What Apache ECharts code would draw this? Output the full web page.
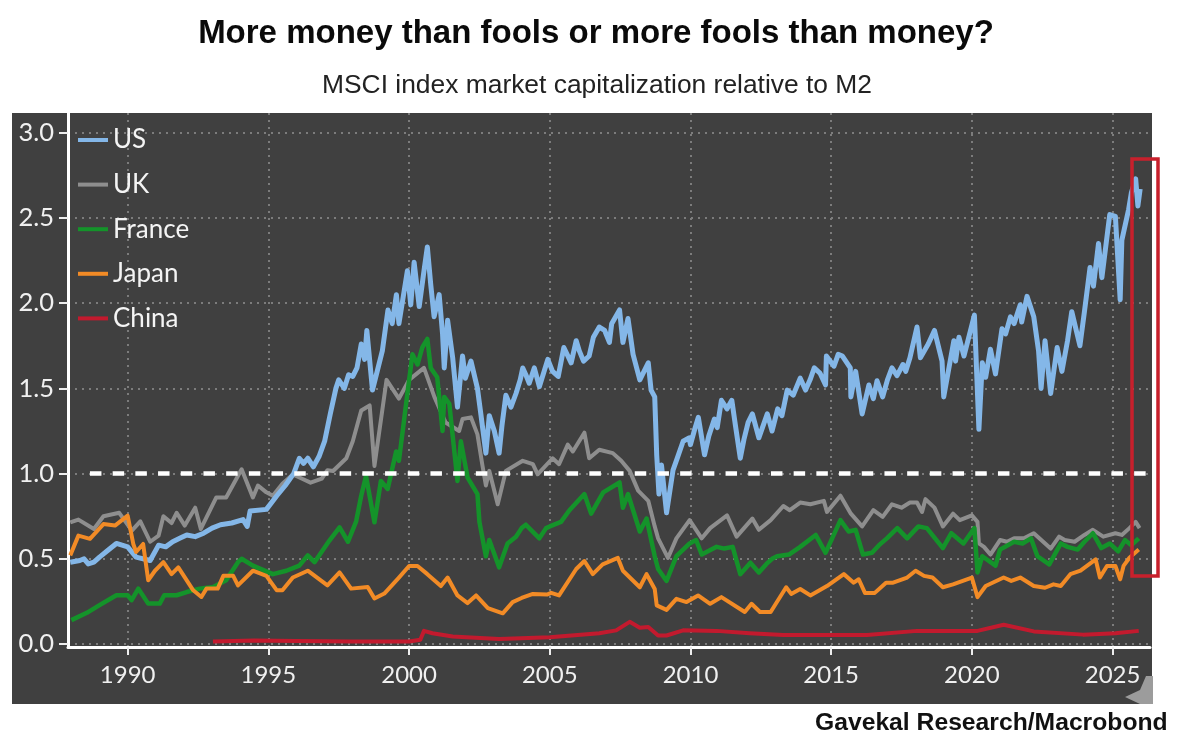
<!DOCTYPE html>
<html>
<head>
<meta charset="utf-8">
<title>MSCI market cap relative to M2</title>
<script src="https://cdn.jsdelivr.net/npm/echarts@6/dist/echarts.min.js"></script>
<style>
  html, body { margin: 0; padding: 0; background: #fff; }
  #main { width: 1200px; height: 750px; }
</style>
</head>
<body>
<div id="main"></div>
<script>
// [year, value]
var usData = [[1987.96,.48],[1988.3,.49],[1988.45,.5],[1988.6,.47],[1988.8,.48],[1989,.51],[1989.3,.55],[1989.6,.59],[1990,.57],[1990.3,.51],[1990.8,.49],[1991.1,.58],[1991.35,.57],[1991.6,.6],[1991.85,.62],[1992.1,.64],[1992.4,.63],[1992.7,.65],[1993,.68],[1993.3,.7],[1993.7,.71],[1994.1,.73],[1994.25,.69],[1994.35,.78],[1994.93,.79],[1995.3,.87],[1995.6,.93],[1995.9,1.0],[1996.1,1.09],[1996.25,1.06],[1996.4,1.09],[1996.6,1.04],[1996.8,1.1],[1997,1.19],[1997.2,1.35],[1997.4,1.5],[1997.5,1.55],[1997.7,1.5],[1997.85,1.58],[1998,1.57],[1998.15,1.62],[1998.3,1.76],[1998.42,1.67],[1998.5,1.84],[1998.7,1.49],[1999.05,1.72],[1999.25,1.96],[1999.4,1.88],[1999.55,2.05],[1999.64,1.88],[1999.94,2.19],[2000.06,1.99],[2000.18,2.24],[2000.36,1.98],[2000.53,2.19],[2000.65,2.33],[2000.77,2.11],[2000.89,1.92],[2001.07,2.05],[2001.19,1.82],[2001.25,1.62],[2001.37,1.9],[2001.55,1.68],[2001.72,1.39],[2001.9,1.69],[2002,1.56],[2002.2,1.66],[2002.43,1.5],[2002.55,1.35],[2002.73,1.12],[2002.85,1.34],[2003.03,1.25],[2003.2,1.12],[2003.3,1.28],[2003.44,1.46],[2003.62,1.39],[2003.8,1.47],[2003.95,1.55],[2004.04,1.62],[2004.15,1.58],[2004.27,1.53],[2004.45,1.62],[2004.63,1.51],[2004.93,1.67],[2005.1,1.6],[2005.3,1.57],[2005.5,1.74],[2005.76,1.65],[2005.94,1.78],[2006.05,1.72],[2006.2,1.66],[2006.4,1.69],[2006.55,1.8],[2006.76,1.86],[2006.95,1.84],[2007.12,1.77],[2007.2,1.88],[2007.48,1.96],[2007.6,1.77],[2007.78,1.91],[2007.96,1.7],[2008.2,1.55],[2008.5,1.65],[2008.6,1.49],[2008.73,1.45],[2008.8,1.11],[2008.88,.88],[2008.97,1.05],[2009.15,.77],[2009.38,1.02],[2009.55,1.1],[2009.74,1.19],[2009.95,1.21],[2010,1.17],[2010.15,1.26],[2010.28,1.33],[2010.5,1.11],[2010.65,1.22],[2010.85,1.32],[2010.95,1.27],[2011.1,1.43],[2011.3,1.38],[2011.47,1.43],[2011.6,1.28],[2011.77,1.09],[2011.9,1.2],[2012.05,1.3],[2012.2,1.35],[2012.43,1.21],[2012.73,1.35],[2012.9,1.25],[2013.1,1.38],[2013.25,1.34],[2013.44,1.49],[2013.65,1.46],[2013.9,1.56],[2014.09,1.49],[2014.25,1.55],[2014.4,1.62],[2014.6,1.59],[2014.8,1.52],[2014.83,1.69],[2015.1,1.63],[2015.25,1.7],[2015.4,1.69],[2015.68,1.62],[2015.7,1.45],[2015.87,1.6],[2016.1,1.35],[2016.34,1.52],[2016.5,1.44],[2016.63,1.545],[2016.83,1.45],[2017,1.55],[2017.16,1.62],[2017.34,1.575],[2017.55,1.64],[2017.65,1.6],[2017.8,1.68],[2018.05,1.86],[2018.17,1.68],[2018.45,1.76],[2018.67,1.84],[2018.94,1.66],[2019,1.45],[2019.36,1.78],[2019.42,1.66],[2019.54,1.8],[2019.72,1.69],[2020.09,1.93],[2020.25,1.26],[2020.37,1.65],[2020.49,1.565],[2020.66,1.73],[2020.84,1.585],[2021.07,1.85],[2021.2,1.82],[2021.37,1.92],[2021.5,1.88],[2021.72,1.99],[2021.77,1.89],[2021.96,2.04],[2022.2,1.92],[2022.37,1.72],[2022.46,1.5],[2022.6,1.78],[2022.8,1.47],[2023.03,1.74],[2023.2,1.6],[2023.4,1.78],[2023.55,1.95],[2023.84,1.75],[2024,1.95],[2024.1,2.08],[2024.2,2.21],[2024.32,2.1],[2024.5,2.35],[2024.62,2.15],[2024.9,2.52],[2025.1,2.51],[2025.27,2.02],[2025.33,2.37],[2025.57,2.55],[2025.67,2.65],[2025.82,2.73],[2025.9,2.57],[2025.98,2.67]];
var ukData = [[1987.96,.714],[1988.25,.73],[1988.8,.675],[1989.14,.75],[1989.7,.77],[1990.15,.665],[1990.45,.72],[1990.8,.6],[1991.1,.636],[1991.27,.75],[1991.56,.71],[1991.74,.77],[1992.03,.695],[1992.4,.8],[1992.6,.675],[1993.15,.86],[1993.5,.86],[1994.05,1.025],[1994.45,.86],[1994.63,.93],[1994.93,.89],[1995.16,.87],[1995.5,.94],[1995.87,.995],[1996.2,.97],[1996.5,.947],[1996.9,.97],[1997.1,1.02],[1997.3,1.015],[1997.77,1.09],[1998,1.19],[1998.3,1.37],[1998.6,1.4],[1998.77,1.045],[1999.2,1.55],[1999.64,1.44],[2000,1.55],[2000.53,1.62],[2000.9,1.45],[2001.3,1.3],[2001.78,1.25],[2001.9,1.32],[2002.2,1.33],[2002.43,1.23],[2002.6,1.055],[2002.73,.93],[2002.85,1.016],[2003.15,.82],[2003.44,1.016],[2004.04,1.075],[2004.4,1.055],[2004.57,.996],[2005.1,1.09],[2005.33,1.055],[2005.64,1.17],[2005.82,1.13],[2006.23,1.24],[2006.4,1.09],[2006.76,1.14],[2007.24,1.12],[2007.54,1.075],[2007.84,1.016],[2008.14,.9],[2008.5,.84],[2008.73,.69],[2008.85,.62],[2009.2,.505],[2009.5,.62],[2009.97,.727],[2010.4,.62],[2010.7,.68],[2011.3,.755],[2011.64,.63],[2012.2,.736],[2012.43,.67],[2012.85,.727],[2013.3,.81],[2013.53,.785],[2013.9,.83],[2014.26,.82],[2014.74,.84],[2014.85,.775],[2015.33,.87],[2015.7,.765],[2016.1,.69],[2016.5,.785],[2016.83,.746],[2017.16,.82],[2017.5,.8],[2017.8,.83],[2018.05,.83],[2018.23,.775],[2018.35,.85],[2018.67,.8],[2018.97,.69],[2019.33,.765],[2019.57,.727],[2020,.755],[2020.2,.717],[2020.25,.59],[2020.43,.57],[2020.66,.525],[2021,.61],[2021.25,.6],[2021.5,.62],[2021.85,.62],[2022.2,.65],[2022.8,.56],[2023.1,.63],[2023.3,.61],[2023.65,.6],[2024,.64],[2024.3,.67],[2024.67,.63],[2025.1,.65],[2025.33,.64],[2025.6,.68],[2025.82,.717],[2025.96,.68]];
var franceData = [[1988,.14],[1988.55,.183],[1989,.228],[1989.6,.286],[1990,.286],[1990.14,.257],[1990.38,.325],[1990.73,.237],[1991.14,.237],[1991.3,.286],[1991.74,.286],[1992.1,.305],[1992.56,.325],[1993.04,.335],[1993.5,.374],[1993.92,.48],[1994.05,.5],[1994.45,.46],[1995.16,.41],[1995.64,.43],[1996.1,.46],[1996.4,.52],[1996.64,.48],[1997.17,.607],[1997.53,.685],[1997.83,.6],[1998.12,.72],[1998.3,.87],[1998.47,.986],[1998.77,.714],[1999,.957],[1999.24,.91],[1999.54,1.13],[1999.64,1.075],[1999.82,1.31],[1999.94,1.47],[2000.12,1.7],[2000.3,1.64],[2000.47,1.74],[2000.65,1.79],[2000.77,1.62],[2001,1.565],[2001.19,1.25],[2001.25,1.45],[2001.43,1.41],[2001.72,.957],[2001.84,1.19],[2002.08,.976],[2002.43,.88],[2002.5,.717],[2002.73,.515],[2002.85,.61],[2003.2,.45],[2003.5,.59],[2003.8,.63],[2004,.68],[2004.15,.7],[2004.63,.62],[2004.87,.68],[2005,.69],[2005.4,.717],[2005.7,.785],[2006.23,.88],[2006.47,.765],[2006.9,.89],[2007.48,.948],[2007.6,.8],[2007.78,.88],[2008.2,.66],[2008.44,.736],[2008.73,.515],[2008.85,.44],[2009.15,.37],[2009.5,.515],[2009.97,.59],[2010.2,.61],[2010.4,.525],[2010.93,.57],[2011.2,.56],[2011.5,.57],[2011.77,.41],[2012.13,.477],[2012.43,.42],[2012.7,.47],[2012.9,.5],[2013.08,.515],[2013.5,.525],[2013.9,.57],[2014.45,.64],[2014.8,.535],[2015.33,.727],[2015.62,.66],[2015.87,.67],[2016.13,.525],[2016.45,.535],[2016.7,.58],[2016.98,.62],[2017.35,.68],[2017.7,.62],[2018.1,.69],[2018.4,.68],[2018.97,.563],[2019.27,.65],[2019.7,.59],[2020.09,.68],[2020.2,.42],[2020.37,.515],[2020.84,.46],[2021,.554],[2021.5,.6],[2021.8,.59],[2022.1,.62],[2022.33,.515],[2022.75,.467],[2023.16,.59],[2023.4,.57],[2023.76,.554],[2024,.6],[2024.3,.65],[2024.6,.563],[2024.9,.59],[2025.2,.544],[2025.44,.61],[2025.67,.58],[2025.93,.62]];
var japanData = [[1987.96,.52],[1988.25,.636],[1988.66,.617],[1989.14,.704],[1989.55,.695],[1990,.753],[1990.2,.587],[1990.3,.54],[1990.55,.587],[1990.73,.374],[1990.97,.43],[1991.27,.48],[1991.56,.41],[1991.8,.45],[1992.33,.315],[1992.62,.276],[1992.8,.325],[1993.2,.325],[1993.4,.4],[1993.75,.4],[1993.92,.344],[1994.45,.43],[1994.93,.4],[1995.3,.315],[1995.5,.315],[1995.87,.39],[1996.4,.43],[1997.1,.344],[1997.53,.42],[1997.94,.325],[1998.53,.335],[1998.77,.267],[1999.12,.296],[1999.64,.39],[2000,.458],[2000.3,.458],[2000.65,.41],[2001.13,.34],[2001.37,.39],[2001.72,.285],[2002.08,.24],[2002.38,.285],[2002.8,.21],[2003.33,.18],[2003.68,.246],[2004,.27],[2004.4,.294],[2004.9,.29],[2005.05,.3],[2005.33,.285],[2005.94,.44],[2006.23,.487],[2006.53,.41],[2006.88,.467],[2007.42,.505],[2007.6,.43],[2008.2,.333],[2008.44,.41],[2008.73,.323],[2008.8,.227],[2009.15,.2],[2009.5,.265],[2009.86,.246],[2010.27,.285],[2010.7,.236],[2011.1,.275],[2011.93,.188],[2012.17,.236],[2012.47,.188],[2012.85,.188],[2013.4,.333],[2013.58,.294],[2013.9,.323],[2014.26,.285],[2014.85,.34],[2015.45,.41],[2015.8,.36],[2015.98,.38],[2016.2,.3],[2016.55,.3],[2016.95,.36],[2017.2,.36],[2017.7,.39],[2018,.43],[2018.3,.4],[2018.6,.39],[2018.97,.333],[2019.33,.35],[2020,.39],[2020.2,.275],[2020.49,.34],[2021.13,.39],[2021.4,.37],[2021.72,.39],[2022.2,.34],[2022.6,.33],[2022.9,.35],[2023.16,.34],[2023.5,.41],[2023.86,.43],[2024.4,.496],[2024.55,.39],[2024.8,.458],[2025.1,.458],[2025.27,.38],[2025.39,.458],[2025.6,.506],[2025.93,.554]];
var chinaData = [[1993.03,.014],[1994.5,.02],[1996,.018],[1998,.015],[2000,.015],[2000.4,.025],[2000.53,.077],[2000.83,.063],[2001.55,.044],[2002.03,.04],[2003.2,.03],[2005,.04],[2006.76,.063],[2007.36,.08],[2007.84,.13],[2008.2,.095],[2008.5,.1],[2008.85,.05],[2009.15,.05],[2009.74,.08],[2010.93,.077],[2012.1,.063],[2013.3,.053],[2014.5,.053],[2016.27,.053],[2018.05,.077],[2020.2,.077],[2021.13,.113],[2022.2,.074],[2023.95,.055],[2025.1,.063],[2025.93,.077]];
var refLine = [[1988.66,1],[2026.33,1]];

var yearTicks = [1990, 1995, 2000, 2005, 2010, 2015, 2020, 2025];
var valueTicks = [0, 0.5, 1, 1.5, 2, 2.5, 3];
var colorUS = '#84b7e8', colorUK = '#8e8e8e', colorFR = '#14932a', colorJP = '#f28b26', colorCN = '#c21a2e';
var tickFont = 'Lato';

var myChart = echarts.init(document.getElementById('main'));

function lineSeries(name, data, color, width) {
  return {
    name: name,
    type: 'line',
    data: data,
    showSymbol: false,
    lineStyle: { color: color, width: width, join: 'round' },
    itemStyle: { color: color },
    animation: false
  };
}

var option = {
  backgroundColor: '#fff',
  animation: false,
  title: [
    { text: 'More money than fools or more fools than money?', left: 591, top: 12, textAlign: 'center',
      textStyle: { fontFamily: 'Liberation Sans', fontWeight: 'bold', fontSize: 33, color: '#0a0a0a' } },
    { text: 'MSCI index market capitalization relative to M2', left: 592, top: 68, textAlign: 'center',
      textStyle: { fontFamily: 'Liberation Sans', fontWeight: 'normal', fontSize: 26.4, color: '#222' } },
    { text: 'Gavekal Research/Macrobond', left: 810, top: 706,
      textStyle: { fontFamily: 'Liberation Sans', fontWeight: 'bold', fontSize: 24.7, color: '#111' } }
  ],
  legend: {
    left: 73, top: 120, orient: 'vertical', icon: 'rect',
    itemWidth: 30, itemHeight: 4, itemGap: 14.6,
    data: ['US', 'UK', 'France', 'Japan', 'China'],
    textStyle: { color: '#f4f4f4', fontFamily: tickFont, fontSize: 26, lineHeight: 30 }
  },
  grid: { left: 68, right: 50, top: 113, bottom: 103, containLabel: false },
  xAxis: {
    type: 'value', min: 1987.88, max: 2026.33,
    axisLine: { onZero: false, lineStyle: { color: '#fff', width: 3 } },
    axisTick: { customValues: yearTicks, length: 8, lineStyle: { color: '#eee', width: 2 } },
    axisLabel: { customValues: yearTicks, color: '#f0f0f0', fontFamily: tickFont, fontSize: 24, margin: 16,
      formatter: function (v) { return String(v); } },
    splitLine: { show: true, lineStyle: { color: '#7c7c7c', width: 2, type: [2, 5] } }
  },
  yAxis: {
    type: 'value', min: -0.0176, max: 3.116,
    axisLine: { show: true, onZero: false, lineStyle: { color: '#fff', width: 3 } },
    axisTick: { show: true, customValues: valueTicks, length: 9, lineStyle: { color: '#eee', width: 2 } },
    axisLabel: { customValues: valueTicks, color: '#f0f0f0', fontFamily: tickFont, fontSize: 25.5, margin: 14,
      formatter: function (v) { return v.toFixed(1); } },
    splitLine: { show: true, lineStyle: { color: '#7c7c7c', width: 2, type: [2, 5] } }
  },
  graphic: [
    { type: 'rect', z: -10, shape: { x: 12, y: 113, width: 1140, height: 591 }, style: { fill: '#404040' } },
    { type: 'polygon', z: 5, shape: { points: [[1125, 697], [1140, 690], [1146, 676], [1153, 676], [1153, 704], [1140, 704]] }, style: { fill: '#9c9c9c' } },
    { type: 'rect', z: 20, shape: { x: 1132, y: 159, width: 26, height: 417 }, style: { fill: 'none', stroke: '#c8202c', lineWidth: 3.5 } }
  ],
  series: [
    lineSeries('UK', ukData, colorUK, 4),
    lineSeries('US', usData, colorUS, 5),
    lineSeries('France', franceData, colorFR, 4.5),
    lineSeries('Japan', japanData, colorJP, 4),
    lineSeries('China', chinaData, colorCN, 4),
    {
      name: 'ref', type: 'line', data: refLine, showSymbol: false, silent: true, animation: false,
      lineStyle: { color: '#fff', width: 4.5, type: [11.5, 11.2] }
    }
  ]
};

myChart.setOption(option);
</script>
</body>
</html>
